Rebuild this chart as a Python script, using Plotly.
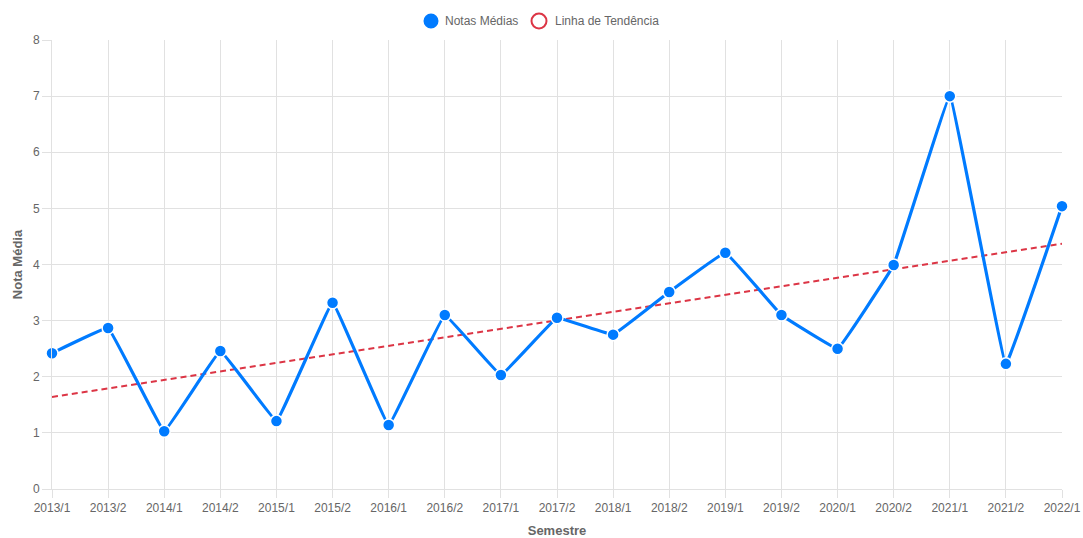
import plotly.graph_objects as go

# ─── Dados ─────────────────────────────────────────────────────────────────────
SEMESTRES = [
    "2013/1", "2013/2", "2014/1", "2014/2", "2015/1", "2015/2", "2016/1",
    "2016/2", "2017/1", "2017/2", "2018/1", "2018/2", "2019/1", "2019/2",
    "2020/1", "2020/2", "2021/1", "2021/2", "2022/1",
]
NOTAS_MEDIAS = [
    2.42, 2.87, 1.03, 2.46, 1.21, 3.32, 1.14, 3.10, 2.03, 3.05,
    2.75, 3.51, 4.21, 3.10, 2.50, 3.99, 7.00, 2.23, 5.04,
]
TENDENCIA_X = ["2013/1", "2022/1"]
TENDENCIA_Y = [1.64, 4.37]

AZUL = "#007bff"
VERMELHO = "#dc3545"
CINZA = "#666666"
GRADE = "#e1e1e1"

W, H = 1083, 538
M = dict(l=52, r=21, t=40, b=49)


def px_x(px):
    return (px - M["l"]) / (W - M["l"] - M["r"])


def px_y(py):
    return (H - M["b"] - py) / (H - M["t"] - M["b"])


fig = go.Figure()

# Linha de tendência (tracejada)
fig.add_trace(
    go.Scatter(
        x=TENDENCIA_X, y=TENDENCIA_Y,
        mode="lines",
        line=dict(color=VERMELHO, width=2, dash="6px,4px"),
        showlegend=False,
    )
)

# Notas médias
fig.add_trace(
    go.Scatter(
        x=SEMESTRES, y=NOTAS_MEDIAS,
        mode="lines+markers",
        line=dict(color=AZUL, width=3.2, shape="spline", smoothing=0.15),
        marker=dict(color=AZUL, size=12, line=dict(color="white", width=1.5)),
        cliponaxis=False,
        showlegend=False,
    )
)

# ─── Legenda no estilo Chart.js (círculos + texto) ─────────────────────────────
legenda = [
    ("Notas Médias", 431, 443, dict(fillcolor=AZUL, line=dict(color=AZUL, width=0))),
    ("Linha de Tendência", 539, 553, dict(fillcolor="rgba(0,0,0,0)", line=dict(color=VERMELHO, width=2))),
]
for texto, cx, tx, estilo in legenda:
    fig.add_shape(
        type="circle", xref="paper", yref="paper",
        xsizemode="pixel", ysizemode="pixel",
        xanchor=px_x(cx), yanchor=px_y(21),
        x0=-7.5, x1=7.5, y0=-7.5, y1=7.5,
        **estilo,
    )
    fig.add_annotation(
        text=texto, xref="paper", yref="paper",
        x=px_x(tx), y=px_y(21), xanchor="left", yanchor="middle",
        showarrow=False, font=dict(size=12, color=CINZA),
    )

fig.update_layout(
    width=W, height=H,
    paper_bgcolor="white",
    plot_bgcolor="white",
    showlegend=False,
    font=dict(family="Arial, 'Liberation Sans', sans-serif", size=12, color=CINZA),
    margin=dict(**M, autoexpand=False),
    xaxis=dict(
        type="category",
        categoryorder="array", categoryarray=SEMESTRES,
        range=[0, len(SEMESTRES) - 1],
        automargin=False,
        showgrid=True, gridcolor=GRADE, gridwidth=1,
        ticks="outside", ticklen=8, tickcolor=GRADE,
        showline=True, linecolor=GRADE,
        zeroline=False,
        title=dict(text="<b>Semestre</b>", font=dict(size=13, color=CINZA), standoff=16),
    ),
    yaxis=dict(
        range=[0, 8], dtick=1,
        automargin=False,
        showgrid=True, gridcolor=GRADE, gridwidth=1,
        ticks="outside", ticklen=9, tickcolor=GRADE,
        showline=True, linecolor=GRADE,
        zeroline=False,
        title=dict(text="<b>Nota Média</b>", font=dict(size=13, color=CINZA), standoff=7),
    ),
)

fig.write_html(
    "out.html",
    config={"displayModeBar": False},
    post_script="document.body.style.margin='0';",
)
